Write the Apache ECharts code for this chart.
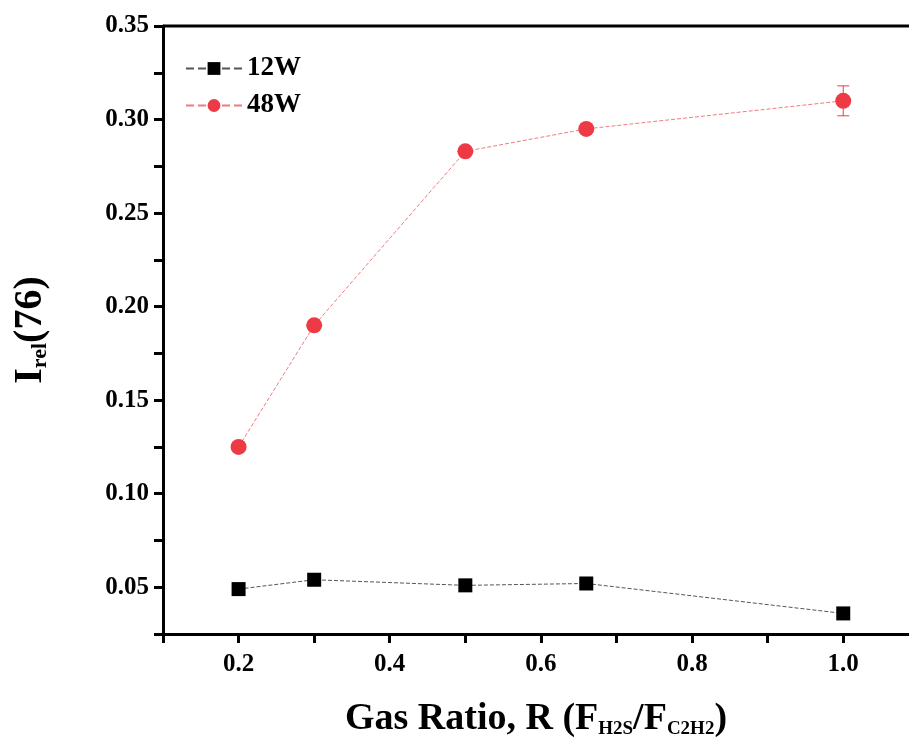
<!DOCTYPE html>
<html><head><meta charset="utf-8">
<script src="https://cdn.jsdelivr.net/npm/echarts@6/dist/echarts.min.js"></script>
<style>html,body{margin:0;background:#fff}#c{width:909px;height:744px}</style>
</head><body><div id="c"></div>
<script>
var ratio = [0.2, 0.3, 0.5, 0.66, 1.0];
var w12 = [0.049, 0.054, 0.051, 0.052, 0.036];
var w48 = [0.125, 0.190, 0.283, 0.295, 0.310];
var err48 = [0, 0, 0, 0, 0.008];

var F = 'Liberation Serif';
var chart = echarts.init(document.getElementById('c'));
function pts(v){ return ratio.map(function(x,i){ return [x, v[i]]; }); }
chart.setOption({
  animation: false,
  grid: { left: 163, top: 26, right: 0, bottom: 107 },
  legend: {
    left: 180, top: 50, orient: 'vertical', itemGap: 10, itemWidth: 56, itemHeight: 16,
    textStyle: { fontFamily: F, fontWeight: 'bold', fontSize: 27, color: '#000' },
    data: ['12W', '48W']
  },
  xAxis: {
    type: 'value', min: 0.1, max: 1.087, interval: 0.1,
    axisLine: { lineStyle: { color: '#000', width: 3 } },
    axisTick: { length: 9, lineStyle: { width: 3 } },
    splitLine: { show: false },
    axisLabel: { fontFamily: F, fontWeight: 'bold', fontSize: 25, color: '#000', margin: 18, showMaxLabel: false,
      formatter: function(v){ var k = Math.round(v*10); return (k % 2 === 0 && k <= 10) ? (k/10).toFixed(1) : ''; } },
    name: '{m|Gas Ratio, R (F}{s|H2S}{m|/F}{s|C2H2}{m|)}',
    nameLocation: 'middle', nameGap: 66,
    nameTextStyle: { rich: {
      m: { fontFamily: F, fontWeight: 'bold', fontSize: 38, color: '#000' },
      s: { fontFamily: F, fontWeight: 'bold', fontSize: 19, color: '#000', verticalAlign: 'bottom', padding: [20,0,0,0] }
    } }
  },
  yAxis: {
    type: 'value', min: 0.025, max: 0.35, interval: 0.025,
    axisLine: { lineStyle: { color: '#000', width: 3 } },
    axisTick: { length: 9, lineStyle: { width: 3 } },
    splitLine: { show: false },
    axisLabel: { fontFamily: F, fontWeight: 'bold', fontSize: 25, color: '#000', margin: 14,
      formatter: function(v){ var k = Math.round(v*1000); return k % 50 === 0 ? (k/1000).toFixed(2) : ''; } },
    name: '{m|I}{s|rel}{m|(76)}',
    nameLocation: 'middle', nameGap: 112,
    nameTextStyle: { rich: {
      m: { fontFamily: F, fontWeight: 'bold', fontSize: 40, color: '#000' },
      s: { fontFamily: F, fontWeight: 'bold', fontSize: 22, color: '#000', verticalAlign: 'bottom', padding: [18,0,0,0] }
    } }
  },
  series: [
    { name: '12W', type: 'line', data: pts(w12), symbol: 'rect', symbolSize: 14,
      itemStyle: { color: '#000' }, lineStyle: { color: '#555', width: 1, type: 'dashed' } },
    { name: '48W', type: 'line', data: pts(w48), symbol: 'circle', symbolSize: 16,
      itemStyle: { color: '#ee3a45' }, lineStyle: { color: '#f07a80', width: 1, type: 'dashed' } },
    { type: 'custom', silent: true, z: 1,
      data: ratio.map(function(x,i){ return [x, w48[i]-err48[i], w48[i]+err48[i]]; }).filter(function(d,i){ return err48[i] > 0; }),
      renderItem: function(params, api){
        var lo = api.coord([api.value(0), api.value(1)]);
        var hi = api.coord([api.value(0), api.value(2)]);
        var st = { stroke: '#ee3a45', lineWidth: 1 };
        return { type: 'group', children: [
          { type: 'line', shape: { x1: lo[0], y1: lo[1], x2: hi[0], y2: hi[1] }, style: st },
          { type: 'line', shape: { x1: lo[0]-6, y1: lo[1], x2: lo[0]+6, y2: lo[1] }, style: st },
          { type: 'line', shape: { x1: hi[0]-6, y1: hi[1], x2: hi[0]+6, y2: hi[1] }, style: st }
        ] };
      } }
  ]
});
// top frame line
chart.setOption({ graphic: [{ type: 'line', shape: { x1: 163, y1: 26, x2: 909, y2: 26 }, style: { stroke: '#000', lineWidth: 3 } }] });
</script></body></html>
